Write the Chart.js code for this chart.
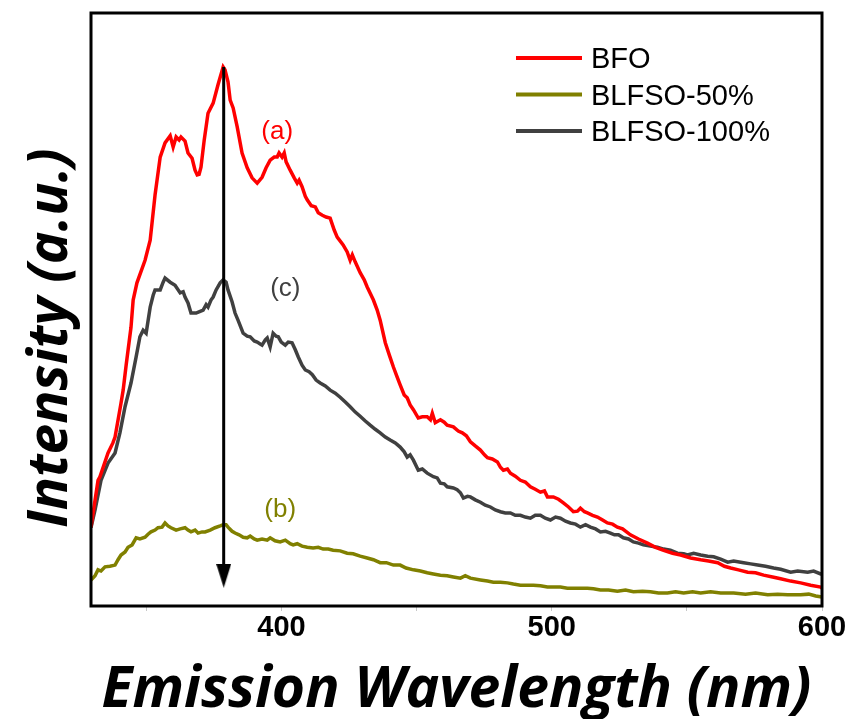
<!DOCTYPE html>
<html lang="en">
<head>
<meta charset="UTF-8">
<title>Emission spectra</title>
<script src="https://cdn.jsdelivr.net/npm/chart.js"></script>
<style>
  html, body { margin: 0; padding: 0; background: #fff; }
  #chart { display: block; }
</style>
</head>
<body>
<canvas id="chart" width="848" height="719"></canvas>
<script>
// [wavelength nm, intensity a.u.] for each sample
const bfo = [
  [329.5, 13.3], [332.1, 21.2], [332.8, 21.8], [335.8, 25.8], [337.6, 27.5], [338.4, 28.5],
  [340.6, 34.2], [341.4, 36.4], [342.5, 40.6], [344.3, 47.0], [345.1, 51.6], [346.5, 54.5],
  [349.5, 58.3], [351.4, 61.7], [353.2, 69.3], [355.1, 75.7], [356.9, 78.1], [358.8, 79.3],
  [359.9, 77.4], [361.0, 79.1], [362.1, 78.6], [362.8, 79.1], [364.3, 78.4], [365.4, 76.4],
  [366.9, 75.5], [368.0, 73.5], [368.8, 72.7], [369.5, 72.8], [370.2, 74.0], [371.4, 78.6],
  [372.8, 83.1], [374.7, 84.8], [376.5, 87.9], [378.4, 90.9], [379.1, 90.4], [380.2, 88.4],
  [381.0, 85.3], [382.1, 84.0], [383.6, 80.8], [385.4, 76.4], [387.3, 73.9], [389.1, 72.2],
  [391.0, 71.3], [392.8, 72.3], [394.3, 73.9], [395.8, 75.2], [397.3, 75.7], [398.4, 75.7],
  [399.1, 76.4], [400.2, 75.7], [401.0, 76.4], [401.7, 74.9], [403.2, 73.5], [404.7, 72.2],
  [405.8, 71.3], [406.5, 71.8], [407.6, 70.7], [408.8, 69.1], [409.5, 68.5], [411.0, 67.5],
  [412.5, 67.3], [413.6, 66.3], [415.1, 65.9], [416.5, 65.6], [418.0, 65.4], [419.5, 63.4],
  [420.6, 62.2], [422.8, 60.9], [424.3, 59.7], [425.4, 58.3], [426.2, 59.2], [427.3, 58.0],
  [429.1, 56.2], [430.6, 55.0], [431.7, 53.8], [434.0, 51.6], [435.4, 49.9], [436.5, 48.2],
  [438.4, 44.4], [439.9, 42.3], [441.4, 40.3], [442.8, 38.6], [443.9, 37.3], [445.4, 35.6],
  [446.5, 35.1], [447.6, 33.9], [448.8, 33.1], [450.6, 31.7], [452.1, 31.9], [453.9, 31.9],
  [455.1, 31.4], [455.8, 32.5], [456.9, 30.9], [458.8, 31.4], [460.2, 31.0], [461.3, 30.5],
  [463.6, 30.2], [465.4, 29.5], [466.9, 29.2], [468.4, 28.7], [469.9, 27.7], [471.7, 27.0],
  [473.6, 26.3], [475.1, 25.5], [476.2, 25.0], [478.0, 24.8], [479.9, 24.3], [481.0, 23.4],
  [482.1, 22.9], [483.6, 23.1], [484.7, 22.4], [486.5, 21.9], [488.4, 21.2], [490.2, 20.9],
  [492.1, 20.1], [493.9, 19.7], [495.8, 19.2], [497.3, 19.4], [498.4, 18.4], [500.6, 18.4],
  [502.5, 18.0], [504.3, 17.4], [506.2, 16.7], [508.0, 15.9], [509.5, 16.0], [510.6, 16.5],
  [512.1, 15.9], [513.2, 15.7], [515.1, 15.3], [516.9, 15.0], [518.8, 14.5], [520.6, 14.0],
  [522.5, 13.8], [524.3, 13.3], [526.2, 13.0], [529.1, 12.0], [532.1, 11.3], [535.4, 10.6],
  [538.4, 9.9], [541.4, 9.4], [544.7, 8.9], [547.7, 8.6], [551.4, 8.1], [555.1, 7.8],
  [558.0, 7.6], [561.4, 7.3], [563.9, 6.7], [566.2, 6.4], [569.1, 6.1], [572.5, 5.7],
  [575.4, 5.6], [578.4, 5.2], [581.7, 4.9], [584.7, 4.6], [588.4, 4.2], [592.1, 3.9],
  [595.8, 3.5], [599.5, 3.2], [600.0, 3.0]
];

const blfso50 = [
  [329.5, 4.4], [331.0, 5.1], [332.1, 6.1], [333.2, 5.9], [334.7, 6.6], [336.5, 6.7],
  [338.4, 6.9], [339.5, 7.8], [340.6, 8.6], [342.1, 9.1], [343.2, 9.9], [344.7, 10.3],
  [346.2, 11.5], [347.6, 11.3], [349.5, 11.6], [350.6, 12.1], [351.7, 12.5], [353.2, 12.8],
  [354.3, 13.2], [355.8, 13.3], [356.9, 14.0], [358.0, 13.5], [359.1, 13.2], [361.0, 12.8],
  [362.5, 13.0], [364.3, 13.2], [365.4, 12.8], [366.5, 12.5], [368.0, 12.8], [369.1, 12.3],
  [370.6, 12.5], [371.7, 12.5], [373.6, 12.8], [375.4, 13.2], [377.3, 13.5], [378.4, 13.7],
  [379.5, 13.7], [380.2, 13.3], [381.7, 12.6], [382.8, 12.3], [384.3, 12.0], [385.8, 11.6],
  [387.3, 11.5], [388.4, 11.8], [389.9, 11.3], [391.0, 11.1], [392.8, 11.3], [394.7, 11.1],
  [395.8, 11.5], [397.6, 11.0], [399.5, 10.8], [401.4, 11.1], [403.2, 10.5], [404.3, 10.3],
  [405.8, 10.5], [407.6, 10.1], [409.5, 9.9], [411.7, 9.8], [413.6, 9.9], [415.4, 9.6],
  [417.3, 9.6], [419.1, 9.4], [421.7, 9.3], [424.3, 8.9], [426.5, 8.8], [429.1, 8.4],
  [431.7, 8.1], [434.0, 7.8], [436.5, 7.3], [438.8, 7.3], [441.4, 6.9], [443.9, 6.9],
  [446.1, 6.4], [448.8, 6.1], [451.4, 5.9], [453.9, 5.6], [456.2, 5.4], [458.8, 5.2],
  [461.3, 5.1], [463.6, 4.9], [466.2, 4.7], [468.0, 5.1], [469.9, 4.7], [473.6, 4.4],
  [476.2, 4.2], [478.4, 4.0], [481.0, 4.0], [483.6, 3.9], [485.8, 3.7], [488.4, 3.5],
  [491.0, 3.5], [493.2, 3.5], [495.8, 3.4], [498.4, 3.2], [500.6, 3.2], [503.2, 3.2],
  [505.8, 3.0], [508.0, 3.0], [510.6, 3.0], [513.2, 3.0], [515.4, 2.9], [518.0, 2.7],
  [521.0, 2.7], [524.3, 2.5], [527.3, 2.7], [530.2, 2.4], [533.6, 2.5], [536.5, 2.4],
  [539.5, 2.2], [542.8, 2.2], [545.8, 2.4], [548.8, 2.2], [552.1, 2.4], [555.1, 2.2],
  [558.8, 2.4], [562.5, 2.2], [567.3, 2.2], [571.7, 2.0], [575.4, 2.2], [579.9, 1.9],
  [583.6, 2.0], [587.3, 1.9], [592.1, 1.9], [595.1, 2.0], [597.7, 1.7], [600.0, 1.5]
];

const blfso100 = [
  [329.5, 13.2], [331.0, 16.2], [333.2, 21.2], [335.8, 24.1], [338.4, 25.8], [340.2, 29.2],
  [342.1, 33.6], [344.3, 37.6], [346.2, 42.0], [347.6, 45.4], [348.8, 46.5], [349.9, 46.0],
  [351.4, 50.4], [352.5, 52.4], [353.2, 53.3], [355.1, 53.3], [356.2, 54.6], [356.9, 55.3],
  [358.8, 54.6], [360.6, 54.1], [362.5, 52.8], [363.6, 53.0], [364.3, 52.1], [365.4, 51.1],
  [366.5, 49.4], [368.4, 49.4], [369.9, 49.7], [371.0, 49.9], [372.1, 50.8], [372.8, 50.4],
  [373.9, 51.6], [374.7, 52.1], [375.8, 53.3], [377.3, 54.5], [378.4, 55.0], [379.5, 54.6],
  [380.2, 53.3], [381.7, 51.3], [382.8, 49.4], [383.9, 48.2], [385.8, 46.0], [387.3, 45.5],
  [388.4, 45.4], [389.9, 44.7], [391.0, 44.5], [392.1, 44.2], [392.8, 44.0], [394.0, 44.9],
  [394.7, 45.2], [395.8, 43.7], [396.9, 46.0], [398.0, 45.5], [398.8, 45.4], [399.9, 44.5],
  [401.4, 44.0], [402.5, 44.5], [403.9, 44.4], [405.1, 43.2], [406.2, 42.0], [407.6, 40.6],
  [408.8, 39.8], [410.2, 39.5], [411.4, 39.0], [412.8, 38.1], [414.3, 37.6], [416.2, 37.1],
  [418.0, 36.4], [419.9, 35.9], [421.7, 35.2], [423.6, 34.4], [425.4, 33.6], [427.3, 32.7],
  [429.1, 32.0], [431.0, 31.2], [432.8, 30.5], [434.7, 29.8], [436.5, 29.2], [438.4, 28.5],
  [440.2, 28.0], [442.1, 27.5], [443.9, 26.8], [445.4, 26.0], [446.5, 25.1], [447.6, 25.5],
  [448.8, 24.6], [450.6, 22.9], [452.1, 23.1], [453.9, 22.4], [456.2, 21.8], [457.6, 21.6],
  [458.8, 20.7], [460.2, 20.6], [461.3, 20.1], [463.6, 19.9], [465.0, 19.6], [466.2, 19.1],
  [467.3, 18.2], [468.8, 18.5], [469.9, 18.4], [471.7, 17.9], [473.6, 17.5], [475.4, 17.0],
  [477.3, 16.7], [479.1, 16.2], [481.0, 15.9], [482.8, 15.7], [484.7, 15.7], [486.5, 15.3],
  [488.4, 15.3], [490.2, 15.0], [492.1, 14.8], [493.9, 15.3], [495.8, 15.3], [497.6, 14.8],
  [499.5, 14.5], [501.4, 15.0], [503.2, 14.8], [505.1, 14.3], [506.9, 14.0], [508.8, 13.8],
  [510.6, 13.3], [512.5, 13.7], [514.3, 13.3], [516.2, 13.0], [518.0, 12.5], [519.9, 12.6],
  [521.7, 12.3], [523.2, 12.0], [524.7, 12.0], [526.5, 11.5], [528.4, 11.3], [530.2, 10.8],
  [532.1, 10.6], [533.9, 10.3], [536.5, 10.1], [539.1, 9.9], [541.4, 9.6], [543.9, 9.4],
  [546.5, 8.9], [548.8, 8.8], [550.2, 8.6], [552.5, 8.9], [555.1, 8.6], [557.7, 8.4],
  [559.9, 8.3], [562.5, 7.9], [565.1, 7.4], [567.3, 7.6], [571.0, 7.3], [573.6, 7.1],
  [576.2, 6.9], [579.1, 6.7], [582.1, 6.4], [584.7, 6.2], [588.4, 5.7], [591.0, 5.9],
  [594.7, 5.7], [596.9, 5.9], [599.5, 5.4], [600.0, 5.4]
];

// arrow marking the drop at the 378 nm band
const arrowNm = 378.6;
const arrowFrom = 90.9;
const arrowTo = 5.1;

// curve tags placed next to each spectrum
const tagA = { text: '(a)', nm: 398.4, value: 79.9 };
const tagB = { text: '(b)', nm: 399.5, value: 16.2 };
const tagC = { text: '(c)', nm: 401.4, value: 53.5 };

const xLabels = [400, 500, 600];

const RED = '#ff0000';
const OLIVE = '#808000';
const GREY = '#404040';

const toPoints = arr => arr.map(([x, y]) => ({ x, y }));

function arrowHead(w, h) {
  const c = document.createElement('canvas');
  c.width = w;
  c.height = h;
  const g = c.getContext('2d');
  g.fillStyle = '#000';
  g.beginPath();
  g.moveTo(0, 0);
  g.lineTo(w, 0);
  g.lineTo(w / 2, h);
  g.closePath();
  g.fill();
  return c;
}

const frame = {
  id: 'frame',
  afterDatasetsDraw(chart) {
    const { ctx, chartArea: a } = chart;
    ctx.save();
    ctx.strokeStyle = '#000';
    ctx.lineWidth = 3;
    ctx.strokeRect(a.left, a.top, a.right - a.left, a.bottom - a.top);
    ctx.restore();
  }
};

const tags = {
  id: 'tags',
  afterDraw(chart) {
    const { ctx, scales } = chart;
    ctx.save();
    ctx.font = '26px "Liberation Sans", Arial, sans-serif';
    ctx.textAlign = 'center';
    ctx.textBaseline = 'middle';
    [[tagA, RED], [tagB, OLIVE], [tagC, GREY]].forEach(([t, color]) => {
      ctx.fillStyle = color;
      ctx.fillText(t.text, scales.x.getPixelForValue(t.nm), scales.y.getPixelForValue(t.value));
    });
    ctx.restore();
  }
};

const legendBox = {
  id: 'legendBox',
  afterDraw(chart) {
    const { ctx, chartArea } = chart;
    const x0 = chartArea.right - 306;
    const y0 = chartArea.top + 45;
    ctx.save();
    ctx.font = '29px "Liberation Sans", Arial, sans-serif';
    ctx.textBaseline = 'middle';
    chart.data.datasets.filter(d => d.label).forEach((d, i) => {
      const y = y0 + i * 36.5;
      ctx.strokeStyle = d.borderColor;
      ctx.lineWidth = 4;
      ctx.beginPath();
      ctx.moveTo(x0, y);
      ctx.lineTo(x0 + 66, y);
      ctx.stroke();
      ctx.fillStyle = '#000';
      ctx.fillText(d.label, x0 + 75, y + 2);
    });
    ctx.restore();
  }
};

const yTitle = {
  id: 'yTitle',
  afterDraw(chart) {
    const { ctx, chartArea } = chart;
    ctx.save();
    ctx.translate(chartArea.left - 24, chartArea.top + 325);
    ctx.rotate(-Math.PI / 2);
    ctx.font = 'italic bold 55px "Open Sans", sans-serif';
    ctx.fillStyle = '#000';
    ctx.textAlign = 'center';
    ctx.textBaseline = 'alphabetic';
    ctx.fillText('Intensity (a.u.)', 0, 0);
    ctx.restore();
  }
};

new Chart(document.getElementById('chart'), {
  type: 'line',
  data: {
    datasets: [
      { label: 'BFO', data: toPoints(bfo), borderColor: RED, borderWidth: 3.5, order: 1 },
      { label: 'BLFSO-50%', data: toPoints(blfso50), borderColor: OLIVE, borderWidth: 3.5, order: 3 },
      { label: 'BLFSO-100%', data: toPoints(blfso100), borderColor: GREY, borderWidth: 3.5, order: 2 },
      {
        data: [{ x: arrowNm, y: arrowFrom }, { x: arrowNm, y: arrowTo }],
        borderColor: '#000',
        borderWidth: 3,
        borderCapStyle: 'butt',
        pointRadius: [0, 2],
        pointStyle: arrowHead(15, 24),
        order: 0
      }
    ]
  },
  options: {
    responsive: false,
    animation: false,
    devicePixelRatio: 1,
    elements: { point: { radius: 0 }, line: { tension: 0 } },
    layout: { padding: { left: 91, right: 26, top: 13, bottom: 0 } },
    plugins: { legend: { display: false }, tooltip: { enabled: false } },
    scales: {
      x: {
        type: 'linear',
        min: 329.5,
        max: 600,
        afterFit: s => { s.height = 113; },
        border: { display: false },
        grid: { drawOnChartArea: false, tickLength: 5, color: '#c8c8c8', lineWidth: 1 },
        ticks: {
          stepSize: 50,
          includeBounds: false,
          autoSkip: false,
          maxRotation: 0,
          padding: 0,
          color: '#000',
          font: { family: '"Liberation Sans Narrow", "Arial Narrow", "Liberation Sans", sans-serif', size: 29, weight: 'bold' },
          callback: v => xLabels.includes(v) ? String(v) : ''
        },
        title: {
          display: true,
          text: 'Emission Wavelength (nm)',
          color: '#000',
          font: { family: '"Open Sans", sans-serif', size: 57, weight: 'bold', style: 'italic', lineHeight: 1 },
          padding: { top: 0, bottom: 0 }
        }
      },
      y: { display: false, min: 0, max: 100 }
    }
  },
  plugins: [frame, tags, legendBox, yTitle]
});
</script>
</body>
</html>
